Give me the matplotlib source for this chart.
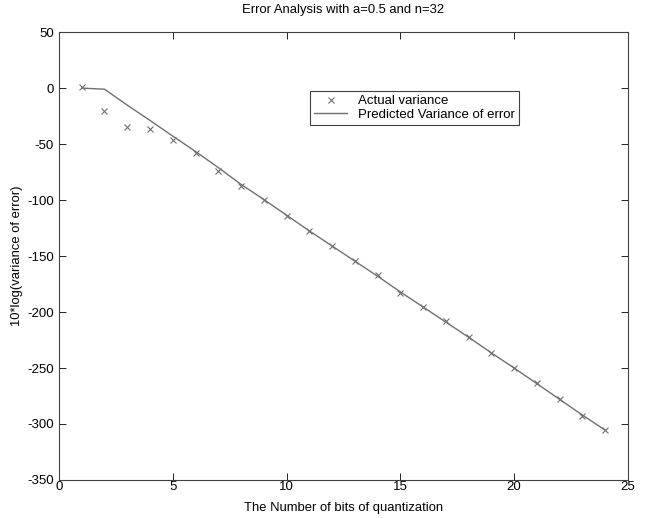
import numpy as np
import matplotlib.pyplot as plt

plt.rcParams['font.family'] = ['Liberation Sans', 'DejaVu Sans']
plt.rcParams['font.size'] = 9.4
plt.rcParams['axes.unicode_minus'] = False

# bits of quantization
bits = np.arange(1, 25)

actual = [1.2, -20.5, -34.8, -36.6, -46.7, -58, -74, -87.2,
          -100, -114, -127.7, -140.8, -154.5, -167, -182.7, -195.2,
          -208, -222, -236.3, -250.3, -263, -277.7, -292.9, -305.4]

# predicted variance of error (dB)
predicted = [0, -1, -15.2, -28.9, -42.9, -56.6, -71, -86,
             -99.5, -113.5, -127.5, -141, -154.5, -168, -182, -195.5,
             -209, -222.5, -236.5, -250, -264, -278, -292, -305.5]

fig = plt.figure(figsize=(6.46, 5.18), dpi=100)
ax = fig.add_axes([0.0913, 0.0734, 0.8807, 0.8646])

ax.plot(bits, actual, linestyle='', marker='x', color='#707070',
        markersize=5, markeredgewidth=0.8, label='Actual variance')
ax.plot(bits, predicted, color='#707070', linewidth=1,
        label='Predicted Variance of error')

ax.set_xlim(0, 25)
ax.set_ylim(-350, 50)
ax.set_xticks(range(0, 26, 5))
ax.set_yticks(range(-350, 51, 50))
ax.tick_params(direction='in', top=True, right=True, length=5, width=0.6,
               labelsize=9.5)
ax.tick_params(axis='x', pad=1)
for s in ax.spines.values():
    s.set_linewidth(0.8)
    s.set_color('#404040')

ax.set_title('Error Analysis with a=0.5 and n=32', fontsize=9.4, pad=14)
ax.set_xlabel('The Number of bits of quantization', labelpad=6)
ax.set_ylabel('10*log(variance of error)', labelpad=3)

leg = ax.legend(loc='upper left', bbox_to_anchor=(0.442, 0.868),
                borderaxespad=0, fancybox=False, framealpha=1,
                edgecolor='#404040', handlelength=2.5, borderpad=0.3,
                labelspacing=0.1, fontsize=9.5)
leg.get_frame().set_linewidth(0.8)

fig.savefig('out.png', dpi=100)
